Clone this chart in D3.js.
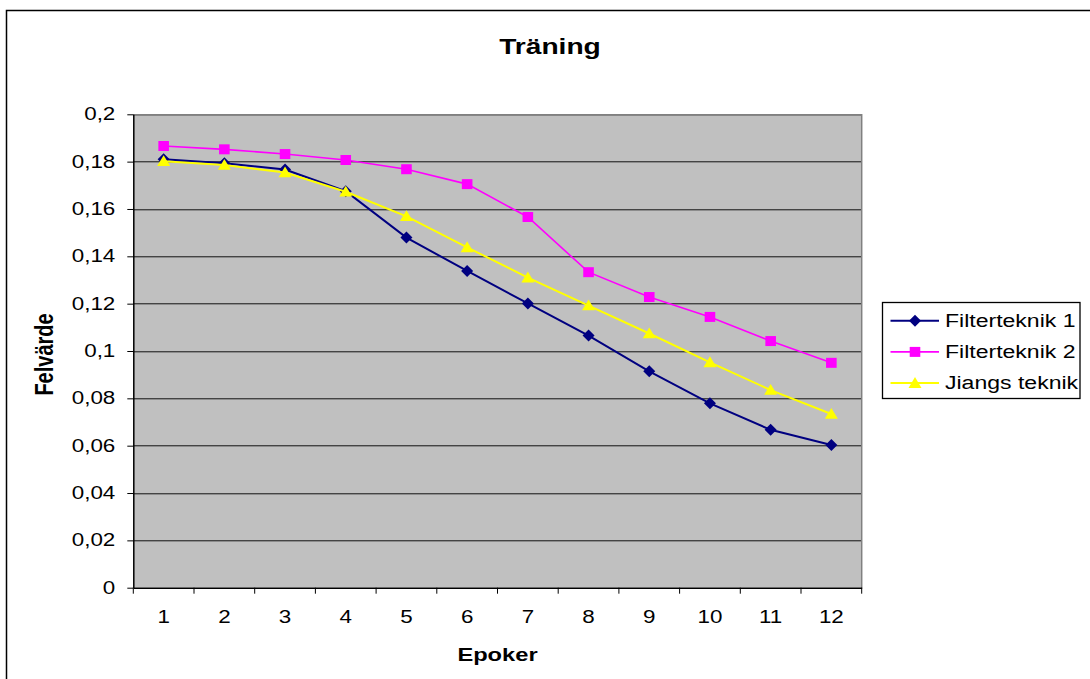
<!DOCTYPE html>
<html>
<head>
<meta charset="utf-8">
<script src="https://cdn.jsdelivr.net/npm/d3@7"></script>
<style>
  body { margin: 0; background: #fff; }
  text { font-family: "Liberation Sans", Arial, sans-serif; fill: #000; }
</style>
</head>
<body>
<svg id="chart"></svg>
<script>
// data
const epochs = [1, 2, 3, 4, 5, 6, 7, 8, 9, 10, 11, 12];
const filter1 = [0.1810, 0.1793, 0.1767, 0.1675, 0.1479, 0.1338, 0.1201, 0.1065, 0.0914, 0.0779, 0.0667, 0.0603];
const filter2 = [0.1866, 0.1852, 0.1832, 0.1807, 0.1768, 0.1705, 0.1566, 0.1333, 0.1228, 0.1144, 0.1042, 0.0950];
const jiang   = [0.1802, 0.1786, 0.1754, 0.1673, 0.1569, 0.1438, 0.1310, 0.1192, 0.1074, 0.0952, 0.0835, 0.0734];
const yTicks = [0, 0.02, 0.04, 0.06, 0.08, 0.1, 0.12, 0.14, 0.16, 0.18, 0.2];
const seriesNames = ['Filterteknik 1', 'Filterteknik 2', 'Jiangs teknik'];

// text in the picture is a bit wider than tall
const SX = 1.28;

class LineChart {

    constructor( config, series ) {
        this.config = {
            parent: config.parent,
            width: config.width || 1090,
            height: config.height || 679,
            margin: config.margin || {top:114.3, right:228.3, bottom:91.3, left:133.3}
        }
        this.series = series;
        this.init();
    }

    init() {
        let self = this;

        self.svg = d3.select( self.config.parent )
            .attr('width', self.config.width)
            .attr('height', self.config.height);

        // outer frame, only top and left visible
        self.svg.append('rect')
            .attr('x', 6.5).attr('y', 10.5)
            .attr('width', 1200).attr('height', 800)
            .attr('fill', 'none')
            .attr('stroke', '#000')
            .attr('stroke-width', 1.5);

        self.chart = self.svg.append('g')
            .attr('transform', `translate(${self.config.margin.left}, ${self.config.margin.top})`);

        self.inner_width = self.config.width - self.config.margin.left - self.config.margin.right;
        self.inner_height = self.config.height - self.config.margin.top - self.config.margin.bottom;

        self.xscale = d3.scaleBand()
            .domain(epochs)
            .range([0, self.inner_width]);

        self.yscale = d3.scaleLinear()
            .domain([0, 0.2])
            .range([self.inner_height, 0]);

        self.render();
    }

    render() {
        let self = this;
        const w = self.inner_width, h = self.inner_height;

        self.chart.append('rect')
            .attr('width', w).attr('height', h)
            .attr('fill', '#c0c0c0');

        // grid
        self.chart.append('g')
            .selectAll('line')
            .data(yTicks.slice(1))
            .join('line')
            .attr('x1', 0).attr('x2', w)
            .attr('y1', d => Math.round(self.yscale(d)) + 0.5)
            .attr('y2', d => Math.round(self.yscale(d)) + 0.5)
            .attr('stroke', '#111')
            .attr('stroke-width', 1);

        // top / right frame of plot area
        self.chart.append('path')
            .attr('d', `M0,0.5H${w}V${h}`)
            .attr('fill', 'none')
            .attr('stroke', '#808080')
            .attr('stroke-width', 1.5);

        // y axis
        const yaxis = d3.axisLeft(self.yscale)
            .tickValues(yTicks)
            .tickFormat(d => String(d).replace('.', ','))
            .tickSize(6)
            .tickSizeOuter(0);

        const yg = self.chart.append('g').call(yaxis);
        yg.select('.domain').attr('stroke', '#000').attr('stroke-width', 1.5);
        yg.selectAll('.tick line').attr('stroke', '#000');
        yg.selectAll('text')
            .attr('font-size', 17.5)
            .attr('font-family', '"Liberation Sans", Arial, sans-serif')
            .attr('x', -18 / SX)
            .attr('transform', `scale(${SX},1)`);

        // x axis: labels centred in bands, ticks on band edges
        const xaxis = d3.axisBottom(self.xscale)
            .tickSize(0)
            .tickSizeOuter(0);

        const xg = self.chart.append('g')
            .attr('transform', `translate(0, ${h})`)
            .call(xaxis);
        xg.select('.domain').attr('stroke', '#000').attr('stroke-width', 1.5);
        xg.selectAll('text')
            .attr('font-size', 17.5)
            .attr('font-family', '"Liberation Sans", Arial, sans-serif')
            .attr('y', 23)
            .attr('transform', `scale(${SX},1)`);

        xg.append('g')
            .selectAll('line')
            .data(epochs.map(d => self.xscale(d)).concat([w]))
            .join('line')
            .attr('x1', d => d).attr('x2', d => d)
            .attr('y1', 0).attr('y2', 6)
            .attr('stroke', '#000');

        // lines and markers
        const line = d3.line()
            .x((d, i) => self.xscale(epochs[i]) + self.xscale.bandwidth() / 2)
            .y(d => self.yscale(d));

        self.series.forEach(s => {
            self.chart.append('path')
                .datum(s.values)
                .attr('d', line)
                .attr('fill', 'none')
                .attr('stroke', s.color)
                .attr('stroke-width', s.width);

            self.chart.append('g')
                .selectAll('path')
                .data(s.values)
                .join('path')
                .attr('transform', (d, i) => `translate(${self.xscale(epochs[i]) + self.xscale.bandwidth() / 2}, ${self.yscale(d)})`)
                .attr('d', markerPath(s.marker))
                .attr('fill', s.color);
        });

        // titles
        self.svg.append('text')
            .attr('transform', `translate(550, 54) scale(${SX},1)`)
            .attr('text-anchor', 'middle')
            .attr('font-size', 22)
            .attr('font-weight', 'bold')
            .text('Träning');

        self.svg.append('text')
            .attr('transform', `translate(${self.config.margin.left + w / 2}, 661) scale(${SX},1)`)
            .attr('text-anchor', 'middle')
            .attr('font-size', 18.5)
            .attr('font-weight', 'bold')
            .text('Epoker');

        self.svg.append('text')
            .attr('transform', `translate(53, 354.5) scale(${SX},1) rotate(-90)`)
            .attr('text-anchor', 'middle')
            .attr('font-size', 20)
            .attr('font-weight', 'bold')
            .text('Felvärde');

        // legend
        const legend = self.svg.append('g')
            .attr('transform', 'translate(882.5, 302.5)');

        legend.append('rect')
            .attr('width', 197.5).attr('height', 96)
            .attr('fill', '#fff')
            .attr('stroke', '#000')
            .attr('stroke-width', 1.3);

        const item = legend.selectAll('g.item')
            .data(self.series)
            .join('g')
            .attr('class', 'item')
            .attr('transform', (d, i) => `translate(0, ${18.2 + i * 31.2})`);

        item.append('line')
            .attr('x1', 8).attr('x2', 56.5)
            .attr('stroke', d => d.color)
            .attr('stroke-width', d => d.width);

        item.append('path')
            .attr('transform', 'translate(32.5, 0)')
            .attr('d', d => markerPath(d.marker))
            .attr('fill', d => d.color);

        item.append('text')
            .attr('transform', `translate(62.5, 0) scale(${SX},1)`)
            .attr('dy', '0.35em')
            .attr('font-size', 18)
            .text(d => d.name);
    }
}

function markerPath(kind) {
    if (kind === 'diamond') return 'M0,-6L6,0L0,6L-6,0Z';
    if (kind === 'square') return 'M-5.3,-5H5.3V5H-5.3Z';
    return 'M0,-6L6.5,4.8H-6.5Z';
}

const chart = new LineChart({ parent: '#chart', width: 1090, height: 679 }, [
    { name: seriesNames[0], values: filter1, color: '#000080', marker: 'diamond', width: 2 },
    { name: seriesNames[1], values: filter2, color: '#ff00ff', marker: 'square', width: 1.6 },
    { name: seriesNames[2], values: jiang, color: '#ffff00', marker: 'triangle', width: 2 }
]);
</script>
</body>
</html>
